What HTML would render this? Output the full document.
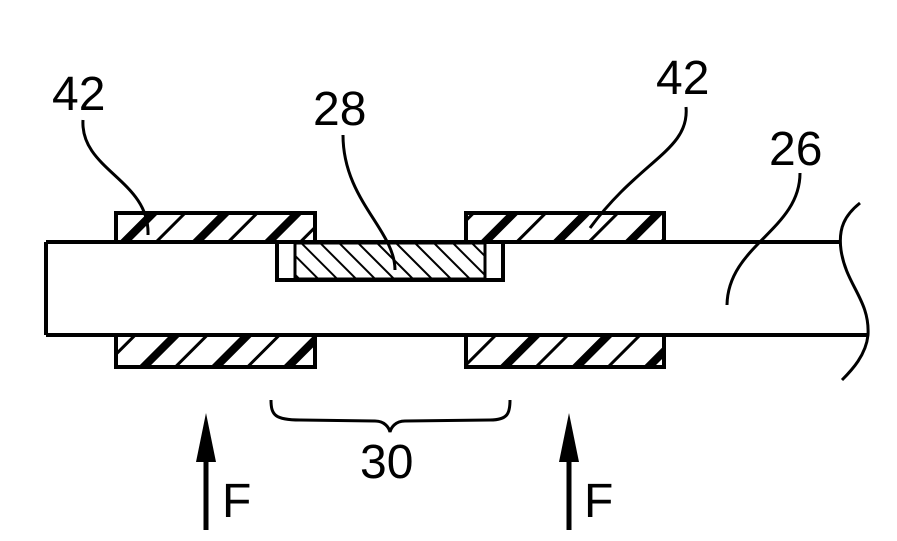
<!DOCTYPE html>
<html><head><meta charset="utf-8"><style>html,body{margin:0;padding:0;background:#fff}svg{display:block}</style></head>
<body>
<svg width="897" height="541" viewBox="0 0 897 541" xmlns="http://www.w3.org/2000/svg">
<defs>
<pattern id="p42" patternUnits="userSpaceOnUse" width="51" height="51" patternTransform="rotate(45)">
<rect x="0" y="0" width="8" height="51" fill="#000"/>
<rect x="25" y="0" width="3" height="51" fill="#000"/>
</pattern>
<pattern id="p28" patternUnits="userSpaceOnUse" width="13.4" height="13.4" patternTransform="rotate(-45)">
<rect x="0" y="0" width="2" height="13.4" fill="#000"/>
</pattern>
</defs>
<g stroke="#000" stroke-width="4" fill="none">
<!-- main bar -->
<line x1="46" y1="242" x2="840" y2="242"/>
<line x1="46" y1="335" x2="868" y2="335"/>
<line x1="46" y1="242" x2="46" y2="335"/>
<!-- pads -->
<rect x="116" y="213" width="199" height="29" fill="url(#p42)"/>
<rect x="466" y="213" width="198" height="29" fill="url(#p42)"/>
<rect x="116" y="335" width="199" height="32" fill="url(#p42)"/>
<rect x="466" y="335" width="198" height="32" fill="url(#p42)"/>
<!-- 28 -->
<rect x="277" y="242" width="226" height="38" fill="#fff"/>
<rect x="295" y="243" width="190" height="36" fill="url(#p28)" stroke-width="3"/>
<!-- wavy edge -->
<path d="M860,203 C845,215 838,228 841,250 C846,285 870,300 868,335 C866,355 852,370 842,380" stroke-width="3"/>
<!-- leaders -->
<path d="M83,120 C80,170 150,180 148,235" stroke-width="3"/>
<path d="M343,135 C343,200 395,230 395,270" stroke-width="3"/>
<path d="M686,107 C690,150 640,160 590,228" stroke-width="3"/>
<path d="M800,173 C800,230 728,245 727,305" stroke-width="3"/>
<!-- brace -->
<path d="M271,400 C271,415 275,420 300,420 L375,421 C385,421 389,428 390,432 C391,428 395,421 405,421 L490,420 C508,420 510,413 510,400" stroke-width="3"/>
<!-- arrows -->
<line x1="206" y1="450" x2="206" y2="530" stroke-width="5"/>
<line x1="569" y1="450" x2="569" y2="530" stroke-width="5"/>
</g>
<polygon points="206,413 196,462 216,462" fill="#000"/>
<polygon points="569,413 559,462 579,462" fill="#000"/>
<g font-family="Liberation Sans, sans-serif" font-size="48" fill="#000">
<text x="52" y="110">42</text>
<text x="313" y="125">28</text>
<text x="656" y="94">42</text>
<text x="769" y="165">26</text>
<text x="360" y="478">30</text>
<text x="222" y="517">F</text>
<text x="584" y="517">F</text>
</g>
</svg>
</body></html>
